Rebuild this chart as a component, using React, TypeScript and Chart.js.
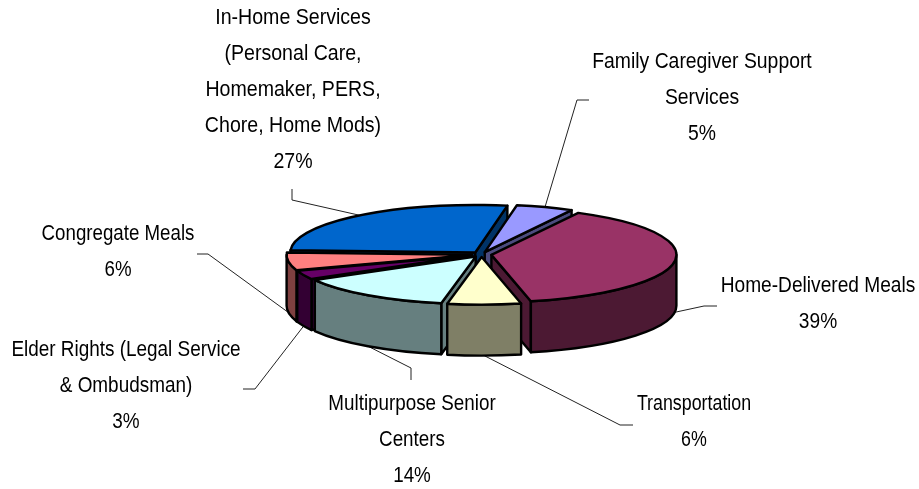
import React, { useEffect, useRef } from "react";
import { Chart, registerables } from "chart.js";

Chart.register(...registerables);

const categories = [
  "Family Caregiver Support Services",
  "Home-Delivered Meals",
  "Transportation",
  "Multipurpose Senior Centers",
  "Elder Rights (Legal Service & Ombudsman)",
  "Congregate Meals",
  "In-Home Services (Personal Care, Homemaker, PERS, Chore, Home Mods)",
];
const shares = [5, 38.8, 6.4, 13.8, 3, 6, 27];
const sliceColors = ["#9999FF", "#993366", "#FFFFCC", "#CCFFFF", "#660066", "#FF8080", "#0066CC"];
const wallColors = ["#4C4C7F", "#4C1933", "#7F7F66", "#667F7F", "#330033", "#7F4040", "#003366"];
const labelLines = [
  ["Family Caregiver Support", "Services"],
  ["Home-Delivered Meals"],
  ["Transportation"],
  ["Multipurpose Senior", "Centers"],
  ["Elder Rights (Legal Service", "& Ombudsman)"],
  ["Congregate Meals"],
  ["In-Home Services", "(Personal Care,", "Homemaker, PERS,", "Chore, Home Mods)"],
];
const labelX = [702, 818, 694, 412, 126, 118, 293];
const labelY = [62, 286, 404, 404, 350, 234, 18];
const labelScale = [0.88, 0.87, 0.81, 0.855, 0.86, 0.85, 0.89];
const elbows = [[577, 100], [704, 306], [620, 425], [411, 368], [255, 389], [208, 254], [292, 200]];
const leaderEnds = [[589, 100], [717, 306], [633, 425], [411, 380], [243, 389], [197, 254], [292, 189]];
const drawOrder = [6, 0, 5, 1, 4, 3, 2];

const TILT = 0.257;
const DEPTH = 51;
const LINE_H = 36;

const pie3d = {
  id: "pie3d",
  beforeDatasetsDraw(chart: any) {
    const ctx: CanvasRenderingContext2D = chart.ctx;
    const meta = chart.getDatasetMeta(0);
    const slices = meta.data.map((el: any, i: number) => {
      const p = el.getProps(["x", "y", "startAngle", "endAngle", "outerRadius"], true);
      const mid = (p.startAngle + p.endAngle) / 2;
      const off = el.options.offset;
      const ox = p.x + Math.cos(mid) * off;
      const oy = p.y + Math.sin(mid) * off;
      return { i, p, mid, ox, oy, cy: p.y, r: p.outerRadius, el };
    });
    const proj = (s: any, y: number) => s.cy + (y - s.cy) * TILT;

    ctx.save();
    ctx.lineJoin = "round";

    // leader lines
    ctx.strokeStyle = "#222";
    ctx.lineWidth = 1;
    slices.forEach((s: any) => {
      const ax = s.ox + s.r * Math.cos(s.mid);
      let ay = proj(s, s.oy + s.r * Math.sin(s.mid));
      if (Math.sin(s.mid) > 0) ay += DEPTH;
      ctx.beginPath();
      ctx.moveTo(ax, ay);
      ctx.lineTo(elbows[s.i][0], elbows[s.i][1]);
      ctx.lineTo(leaderEnds[s.i][0], leaderEnds[s.i][1]);
      ctx.stroke();
    });

    // slices back to front
    drawOrder.forEach((idx) => {
      const s = slices[idx];
      const { p, ox, r } = s;
      const ty = proj(s, s.oy);
      const ry = r * TILT;
      const a1 = p.startAngle;
      const a2 = p.endAngle;
      ctx.lineWidth = s.el.options.borderWidth;
      ctx.strokeStyle = s.el.options.borderColor;
      ctx.fillStyle = wallColors[s.i];

      // radial cut faces
      [a1, a2].forEach((a) => {
        const m = (a1 + a2) / 2;
        const ex = r * Math.cos(a);
        const ey = ry * Math.sin(a);
        const ix = 0.5 * r * Math.cos(m);
        const iy = 0.5 * ry * Math.sin(m);
        const lineY = (ey / ex) * ix;
        if (iy < lineY) {
          ctx.beginPath();
          ctx.moveTo(ox, ty);
          ctx.lineTo(ox + ex, ty + ey);
          ctx.lineTo(ox + ex, ty + ey + DEPTH);
          ctx.lineTo(ox, ty + DEPTH);
          ctx.closePath();
          ctx.fill();
          ctx.stroke();
        }
      });

      // outer wall (front half only)
      const w1 = Math.max(a1, 0);
      const w2 = Math.min(a2, Math.PI);
      if (w2 > w1) {
        ctx.beginPath();
        ctx.ellipse(ox, ty, r, ry, 0, w1, w2);
        ctx.ellipse(ox, ty + DEPTH, r, ry, 0, w2, w1, true);
        ctx.closePath();
        ctx.fill();
        ctx.stroke();
      }

      // top face
      ctx.fillStyle = s.el.options.backgroundColor;
      ctx.beginPath();
      ctx.moveTo(ox, ty);
      ctx.ellipse(ox, ty, r, ry, 0, a1, a2);
      ctx.closePath();
      ctx.fill();
      ctx.stroke();
    });

    // labels
    ctx.fillStyle = "#000";
    ctx.font = '22px "Liberation Sans"';
    ctx.textAlign = "center";
    ctx.textBaseline = "middle";
    slices.forEach((s: any) => {
      const pct = Math.round(chart.data.datasets[0].data[s.i]) + "%";
      const lines = [...labelLines[s.i], pct];
      lines.forEach((t: string, n: number) => {
        ctx.save();
        ctx.translate(labelX[s.i], labelY[s.i] + n * LINE_H);
        ctx.scale(labelScale[s.i], 1);
        ctx.fillText(t, 0, 0);
        ctx.restore();
      });
    });
    ctx.restore();
    return false;
  },
};

export default function App() {
  const ref = useRef<HTMLCanvasElement>(null);
  useEffect(() => {
    document.body.style.margin = "0";
    const chart = new Chart(ref.current!, {
      type: "pie",
      data: {
        labels: categories,
        datasets: [
          {
            data: shares,
            backgroundColor: sliceColors,
            borderColor: "#000",
            borderWidth: 2.4,
            offset: 10,
            radius: 185,
          } as any,
        ],
      },
      options: {
        responsive: false,
        animation: false,
        rotation: 10,
        layout: { padding: { left: 44, top: 20 } },
        plugins: { legend: { display: false }, tooltip: { enabled: false } },
      },
      plugins: [pie3d as any],
    });
    return () => chart.destroy();
  }, []);
  return <canvas ref={ref} width={919} height={489} style={{ display: "block" }} />;
}
